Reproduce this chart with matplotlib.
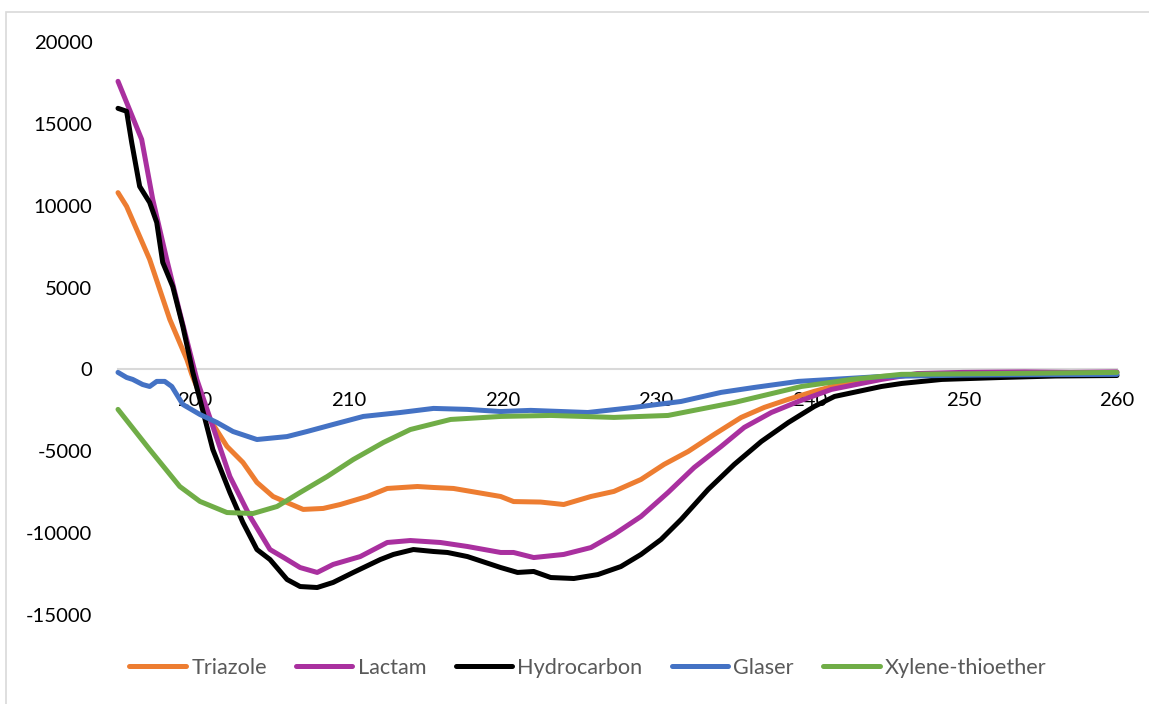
import matplotlib.pyplot as plt
from matplotlib.patches import Rectangle

# -------------------- CD spectra (wavelength in nm, mean residue ellipticity) --------------------
triazole_x = [195.0, 195.56, 197.06, 198.37, 199.48, 199.8, 200.98, 202.09, 203.13, 204.04, 205.09,
              206.0, 207.05, 208.35, 209.46, 211.22, 212.52, 214.48, 215.53, 216.83, 219.9, 220.74,
              222.5, 224.0, 225.77, 227.27, 229.03, 230.53, 232.1, 233.79, 235.55, 237.05, 238.6,
              240.3, 242.5, 244.7, 248.0, 252.0, 256.0, 260.0]
triazole_y = [10800, 9960, 6720, 3055, 611, -300, -3055, -4700, -5680, -6900, -7760,
              -8130, -8550, -8490, -8250, -7760, -7270, -7150, -7210, -7270, -7760, -8070,
              -8100, -8250, -7760, -7450, -6720, -5800, -5010, -3970, -2930, -2320, -1830,
              -1340, -790, -430, -300, -250, -220, -200]

lactam_x = [195.0, 196.54, 197.26, 198.17, 199.02, 200.13, 201.17, 202.28, 203.59, 204.89, 205.8,
            206.85, 207.96, 209.0, 210.76, 212.52, 214.02, 215.98, 217.74, 219.9, 220.74, 222.05,
            224.0, 225.77, 227.27, 229.03, 230.79, 232.49, 234.25, 235.75, 237.51, 239.27, 241.42,
            244.68, 247.0, 250.0, 254.0, 257.0, 260.0]
lactam_y = [17600, 14050, 10390, 6720, 3480, -610, -3480, -6540, -8980, -11000, -11500,
            -12100, -12400, -11910, -11430, -10570, -10450, -10570, -10815, -11180, -11180, -11490,
            -11300, -10880, -10080, -8980, -7515, -5990, -4700, -3540, -2630, -1955, -1220,
            -610, -250, -180, -150, -180, -150]

hydrocarbon_x = [195.0, 195.56, 195.89, 196.41, 197.06, 197.52, 197.91, 198.56, 199.22, 199.87,
                 200.33, 201.17, 202.28, 203.13, 204.04, 204.89, 206.0, 206.85, 207.96, 209.0,
                 210.31, 212.07, 212.92, 214.22, 215.53, 216.44, 217.74, 219.9, 221.0, 222.05,
                 223.16, 224.66, 226.22, 227.72, 229.03, 230.33, 231.64, 233.4, 235.1, 236.86,
                 238.62, 240.31, 241.62, 244.68, 246.0, 248.6, 252.5, 256.0, 260.0]
hydrocarbon_y = [15950, 15770, 13870, 11180, 10200, 8980, 6540, 5070, 2630, -180,
                 -1830, -4890, -7515, -9350, -11000, -11610, -12830, -13260, -13320, -13010,
                 -12400, -11610, -11300, -11000, -11120, -11180, -11430, -12100, -12400, -12340,
                 -12710, -12770, -12530, -12040, -11300, -10390, -9165, -7330, -5800, -4400,
                 -3240, -2260, -1650, -1040, -855, -610, -490, -400, -370]

glaser_x = [195.0, 195.56, 195.96, 196.6, 197.06, 197.52, 198.04, 198.5, 199.22, 200.33, 201.44,
            202.48, 204.04, 206.0, 207.3, 209.0, 210.96, 213.37, 215.53, 217.74, 219.9, 221.85,
            225.57, 228.57, 231.64, 234.25, 236.4, 239.27, 244.68, 250.0, 255.0, 260.0]
glaser_y = [-180, -490, -610, -920, -1040, -730, -730, -1040, -2140, -2750, -3240,
            -3790, -4280, -4100, -3790, -3360, -2870, -2630, -2380, -2440, -2570, -2500,
            -2630, -2320, -1955, -1400, -1100, -730, -430, -350, -320, -300]

thioether_x = [195.0, 197.06, 199.02, 200.33, 202.09, 203.78, 205.35, 206.85, 208.61, 210.31,
               212.27, 214.02, 216.64, 219.9, 223.16, 227.27, 230.79, 235.1, 239.47, 242.73,
               245.96, 252.0, 260.0]
thioether_y = [-2440, -4890, -7150, -8060, -8740, -8800, -8370, -7515, -6540, -5500,
               -4460, -3670, -3055, -2870, -2810, -2930, -2810, -2020, -1040, -610,
               -300, -250, -180]

SERIES = [
    ('Triazole', triazole_x, triazole_y, '#ED7D31'),
    ('Lactam', lactam_x, lactam_y, '#A9309F'),
    ('Hydrocarbon', hydrocarbon_x, hydrocarbon_y, '#000000'),
    ('Glaser', glaser_x, glaser_y, '#4472C4'),
    ('Xylene-thioether', thioether_x, thioether_y, '#70AD47'),
]
X_TICKS = [200, 210, 220, 230, 240, 250, 260]
Y_TICKS = [-15000, -10000, -5000, 0, 5000, 10000, 15000, 20000]
# ------------------------------------------------------------------------------------------------

plt.rcParams['font.family'] = ['Lato', 'DejaVu Sans']
plt.rcParams['axes.unicode_minus'] = False

fig = plt.figure(figsize=(11.49, 7.04), dpi=100)
ax = fig.add_axes([0.1027, 0.1264, 0.8694, 0.8139])

for name, xs, ys, color in SERIES:
    ax.plot(xs, ys, color=color, lw=3.6, label=name, zorder=3,
            solid_capstyle='round', solid_joinstyle='round', clip_on=False)

ax.set_xlim(195, 260)
ax.set_ylim(-15000, 20000)
ax.set_xticks(X_TICKS)
ax.set_yticks(Y_TICKS)

# category axis sits on the zero line, no value axis line
for side in ['top', 'right', 'left']:
    ax.spines[side].set_visible(False)
ax.spines['bottom'].set_position(('data', 0))
ax.spines['bottom'].set_color('#d9d9d9')
ax.spines['bottom'].set_linewidth(1.5)
ax.tick_params(axis='x', length=0, pad=16.5, labelsize=14.6, labelcolor='black')
ax.tick_params(axis='y', length=0, pad=18.5, labelsize=14.6, labelcolor='black')

leg = fig.legend(loc='center', bbox_to_anchor=(588 / 1149, 1 - 668 / 704), ncol=5,
                 frameon=False, fontsize=15.6, handlelength=2.6, handletextpad=0.25,
                 columnspacing=1.35, labelcolor='#595959')
for h in leg.get_lines():
    h.set_linewidth(3.6)
    h.set_solid_capstyle('round')

# chart area border
fig.patches.append(Rectangle((6 / 1149, -0.1), 1.2, 1 - 12 / 704 + 0.1, transform=fig.transFigure,
                             fill=False, edgecolor='#d9d9d9', lw=1.2))

fig.savefig('out.png', dpi=100)
